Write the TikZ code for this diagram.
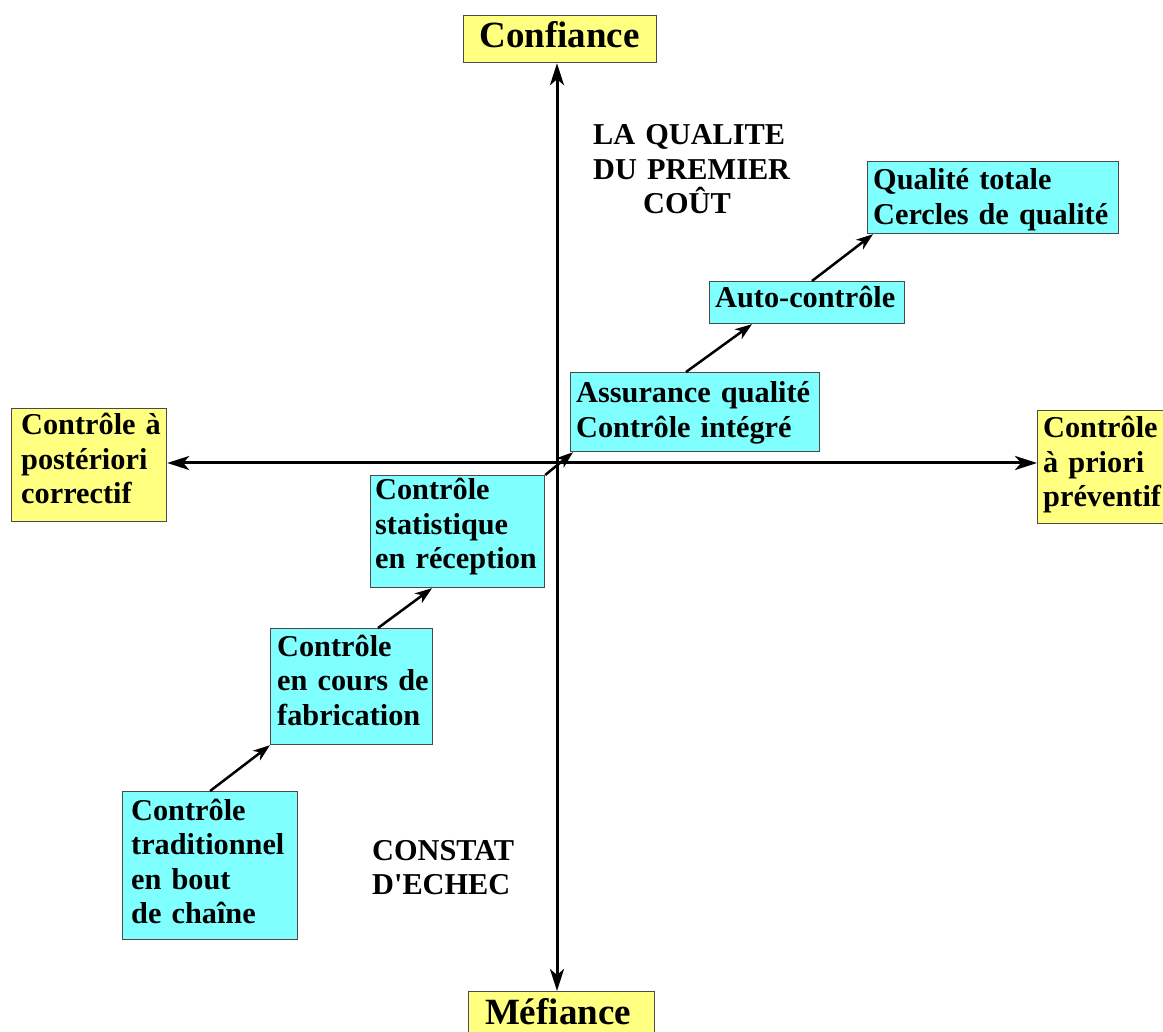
\documentclass[tikz,border=0pt]{standalone}
\usepackage{fontspec}
\setmainfont{Liberation Serif}[Ligatures=TeXOff]
\usetikzlibrary{arrows.meta}
\definecolor{paleyellow}{HTML}{FFFF80}
\definecolor{palecyan}{HTML}{80FFFF}
\definecolor{boxline}{HTML}{4A4A4A}

\begin{document}
\begin{tikzpicture}[x=1pt,y=-1pt,
  box/.style={draw=boxline, line width=1.2pt, inner sep=0pt, anchor=north west},
  pole/.style={box, fill=paleyellow},
  stage/.style={box, fill=palecyan},
  txt/.style={inner sep=0pt, anchor=base west, text width=330pt, align=left,
    font=\bfseries\fontsize{30.3pt}{34.5pt}\selectfont},
  bigtxt/.style={inner sep=0pt, anchor=base,
    font=\bfseries\fontsize{37pt}{40pt}\selectfont},
  axis/.style={line width=3pt,
    {Stealth[length=22pt,width=14pt,inset=6pt]}-{Stealth[length=22pt,width=14pt,inset=6pt]}},
  link/.style={line width=2.5pt, -{Stealth[length=17pt,width=12pt,inset=5pt]}},
]
\useasboundingbox (0,0) rectangle (1163,1032);
\clip (0,0) rectangle (1163,1032);

% the four poles
\node[pole, minimum width=193pt, minimum height=47pt] (conf) at (463,15) {};
\node[pole, minimum width=186pt, minimum height=50pt] (mef) at (468,991) {};
\node[pole, minimum width=155pt, minimum height=113pt] (post) at (11,408) {};
\node[pole, minimum width=140pt, minimum height=113pt] (prio) at (1037,410) {};

% the stages of quality control
\node[stage, minimum width=251pt, minimum height=72pt] (qual) at (867,161) {};
\node[stage, minimum width=195pt, minimum height=42pt] (auto) at (709,281) {};
\node[stage, minimum width=249pt, minimum height=79pt] (assur) at (570,372) {};
\node[stage, minimum width=174pt, minimum height=112pt] (stat) at (370,475) {};
\node[stage, minimum width=162pt, minimum height=116pt] (fab) at (270,628) {};
\node[stage, minimum width=175pt, minimum height=148pt] (trad) at (122,791) {};

% texts
\node[bigtxt] (conf-t) at (559.5,48) {Confiance};
\node[bigtxt] (mef-t) at (558,1024) {Méfiance};
\node[txt] (post-t) at (21,435) {Contrôle à\\postériori\\correctif};
\node[txt] (prio-t) at (1043,438) {Contrôle\\à priori\\préventif};
\node[txt] (qual-t) at (873,190) {Qualité totale\\Cercles de qualité};
\node[txt] (auto-t) at (715,308) {Auto-contrôle};
\node[txt] (assur-t) at (576,403) {Assurance qualité\\Contrôle intégré};
\node[txt] (stat-t) at (375,500) {Contrôle\\statistique\\en réception};
\node[txt] (fab-t) at (277,656) {Contrôle\\en cours de\\fabrication};
\node[txt] (trad-t) at (131,820) {Contrôle\\traditionnel\\en bout\\de chaîne};
\node[txt] (top-note) at (593,145) {LA QUALITE\\DU PREMIER\\\hspace*{50pt}COÛT};
\node[txt] (bottom-note) at (372,860) {CONSTAT\\D'ECHEC};

% axes
\coordinate (o) at (557,463);
\draw[axis] (o |- conf.south) -- (o |- mef.north);
\draw[axis] (o -| post.east) -- (o -| prio.west);

% progression between stages
\draw[link] (trad.north) -- (fab.south west);
\draw[link] ([xshift=108pt]fab.north west) -- ([xshift=62pt]stat.south west);
\draw[link] (stat.north east) -- ([xshift=3pt]assur.south west);
\draw[link] ([xshift=116pt]assur.north west) -- ([xshift=43pt]auto.south west);
\draw[link] ([xshift=103pt]auto.north west) -- ([xshift=6pt]qual.south west);
\end{tikzpicture}
\end{document}
